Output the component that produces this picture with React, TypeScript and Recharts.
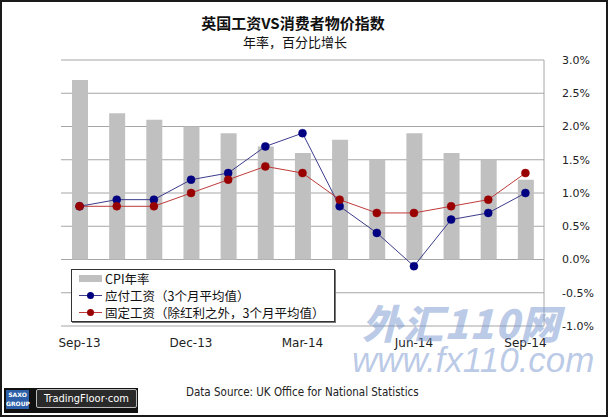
import React from "react";
import {
  ComposedChart, Bar, Line, XAxis, YAxis, CartesianGrid, Legend
} from "recharts";

const months = [
  "Sep-13", "Oct-13", "Nov-13", "Dec-13", "Jan-14", "Feb-14", "Mar-14",
  "Apr-14", "May-14", "Jun-14", "Jul-14", "Aug-14", "Sep-14",
];
const cpi = [2.7, 2.2, 2.1, 2.0, 1.9, 1.7, 1.6, 1.8, 1.5, 1.9, 1.6, 1.5, 1.2];
const totalPay = [0.8, 0.9, 0.9, 1.2, 1.3, 1.7, 1.9, 0.8, 0.4, -0.1, 0.6, 0.7, 1.0];
const regularPay = [0.8, 0.8, 0.8, 1.0, 1.2, 1.4, 1.3, 0.9, 0.7, 0.7, 0.8, 0.9, 1.3];
const yTicks = [-1, -0.5, 0, 0.5, 1, 1.5, 2, 2.5, 3];
const legendOrder = ["cpi", "total", "regular"];

const data = months.map((m, i) => ({
  month: m,
  cpi: cpi[i],
  total: totalPay[i],
  regular: regularPay[i],
}));

const CJK = '"Noto Sans CJK SC", "DejaVu Sans", sans-serif';

// legend box drawn from the series payload
const renderLegend = (props: any) => {
  const items = [...(props.payload || [])].sort(
    (a: any, b: any) => legendOrder.indexOf(a.dataKey) - legendOrder.indexOf(b.dataKey)
  );
  return (
    <div>
      {items.map((entry: any, i: number) => (
        <div key={`leg-${i}`} style={{ display: "flex", alignItems: "center", height: 17 }}>
          <svg width={24} height={17} style={{ marginLeft: 7, marginRight: 2 }}>
            {entry.type === "rect" ? (
              <rect x={0} y={5} width={23} height={7} fill="#c0c0c0" />
            ) : (
              <>
                <line x1={0} y1={8.5} x2={23} y2={8.5} stroke={entry.color} strokeWidth={1} />
                <circle cx={11.5} cy={8.5} r={3.5} fill={entry.payload?.dot?.fill || entry.color} />
              </>
            )}
          </svg>
          <span style={{ fontSize: 12.5, color: "#111", fontFamily: CJK, lineHeight: "17px", whiteSpace: "nowrap" }}>
            {entry.value}
          </span>
        </div>
      ))}
    </div>
  );
};

export default function App() {
  return (
    <div style={{ position: "relative", width: 608, height: 417, background: "#fff", fontFamily: '"DejaVu Sans", sans-serif' }}>
      <style>{`body{margin:0}`}</style>

      {/* title */}
      <div style={{ position: "absolute", left: 0, width: 586, top: 13, textAlign: "center", fontFamily: CJK, fontWeight: 700, fontSize: 15, color: "#111", lineHeight: "20px" }}>
        英国工资VS消费者物价指数
      </div>
      <div style={{ position: "absolute", left: 0, width: 590, top: 33, textAlign: "center", fontFamily: CJK, fontSize: 13, color: "#111", lineHeight: "17px" }}>
        年率，百分比增长
      </div>

      <div style={{ position: "absolute", left: 0, top: 0 }}>
        <ComposedChart width={608} height={417} data={data} margin={{ top: 60, right: 8, bottom: 61, left: 61 }}>
          <CartesianGrid yAxisId="pct" vertical={false} stroke="#a6a6a6" />
          <XAxis
            dataKey="month"
            interval={2}
            height={30}
            axisLine={false}
            tickLine={false}
            tickMargin={6}
            tick={{ fill: "#222", fontSize: 12 }}
          />
          <YAxis yAxisId="frame" orientation="left" width={0} domain={[-1, 3]} ticks={yTicks} tick={false} tickLine={false} axisLine={{ stroke: "#a6a6a6" }} />
          <YAxis
            yAxisId="pct"
            orientation="right"
            width={56}
            domain={[-1, 3]}
            ticks={yTicks}
            tickFormatter={(v: number) => `${v.toFixed(1)}%`}
            axisLine={{ stroke: "#a6a6a6" }}
            tickLine={false}
            tickMargin={12}
            tick={{ fill: "#222", fontSize: 11, textAnchor: "start" }}
          />
          <Legend
            layout="vertical"
            verticalAlign="middle"
            align="center"
            content={renderLegend}
            wrapperStyle={{
              left: 71, top: 269, width: 264, height: 53, boxSizing: "border-box",
              border: "1px solid #333", background: "#fff", boxShadow: "1px 1px 0 #777",
            }}
          />
          <Bar yAxisId="pct" dataKey="cpi" name="CPI年率" fill="#c0c0c0" barSize={16} isAnimationActive={false} />
          <Line
            yAxisId="pct"
            type="linear"
            dataKey="total"
            name="应付工资（3个月平均值）"
            stroke="#3c3c8c"
            strokeWidth={1}
            dot={{ r: 4, fill: "#000080", stroke: "#000080", strokeWidth: 0.5 }}
            activeDot={false}
            isAnimationActive={false}
          />
          <Line
            yAxisId="pct"
            type="linear"
            dataKey="regular"
            name="固定工资（除红利之外，3个月平均值）"
            stroke="#c03a3a"
            strokeWidth={1}
            dot={{ r: 4, fill: "#990000", stroke: "#990000", strokeWidth: 0.5 }}
            activeDot={false}
            isAnimationActive={false}
          />
        </ComposedChart>
      </div>

      {/* watermark */}
      <div style={{ position: "absolute", left: 362, top: 296, fontFamily: CJK, fontWeight: 900, fontStyle: "italic", fontSize: 40, color: "rgba(120,150,205,0.5)", letterSpacing: 1, lineHeight: "52px", pointerEvents: "none" }}>
        外汇110网
      </div>
      <div style={{ position: "absolute", left: 352, top: 340, fontFamily: '"Liberation Sans", sans-serif', fontStyle: "italic", fontSize: 35, color: "rgba(120,150,205,0.5)", lineHeight: "40px", pointerEvents: "none" }}>
        www.fx110.com
      </div>

      {/* footer */}
      <div style={{ position: "absolute", left: 4, top: 388, width: 134, height: 25, background: "#111" }}>
        <div style={{ position: "absolute", left: 2, top: 2, width: 23, height: 19, background: "#2c5fa8", color: "#fff", fontSize: 6, fontWeight: 700, lineHeight: "9px", textAlign: "center", fontFamily: '"DejaVu Sans", sans-serif' }}>
          SAXO<br />GROUP
        </div>
        <div style={{ position: "absolute", left: 32, top: 1, width: 99, height: 17, background: "#2a2a2a", border: "1px solid #bbb", borderRadius: 2, color: "#fff", fontSize: 11, lineHeight: "17px", textAlign: "center", whiteSpace: "nowrap", fontFamily: '"DejaVu Sans Condensed", "DejaVu Sans", sans-serif' }}>
          TradingFloor·com
        </div>
      </div>
      <div style={{ position: "absolute", left: 186, top: 385, fontFamily: '"DejaVu Sans Condensed", "DejaVu Sans", sans-serif', fontSize: 11.5, color: "#222", whiteSpace: "nowrap" }}>
        Data Source: UK Office for National Statistics
      </div>

      <div style={{ position: "absolute", inset: 0, border: "2px solid #1a1a1a", boxSizing: "border-box", pointerEvents: "none" }} />
    </div>
  );
}
